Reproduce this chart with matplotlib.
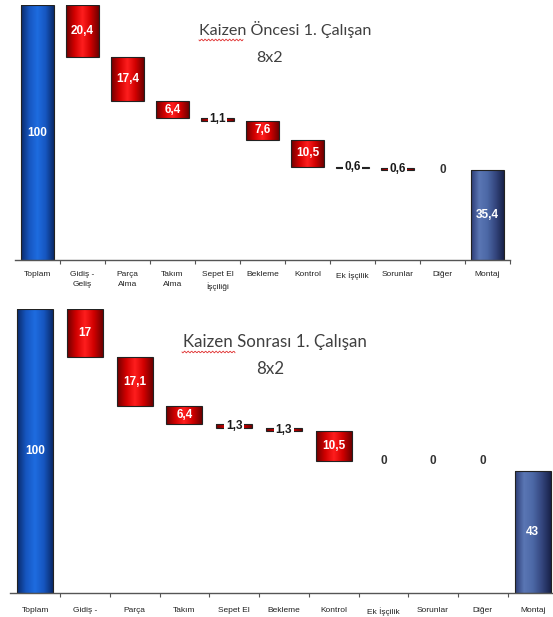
import numpy as np
import matplotlib
matplotlib.use('Agg')
import matplotlib.pyplot as plt
from matplotlib.colors import LinearSegmentedColormap
from matplotlib.lines import Line2D

# ===== DATA =====
categories_before = ['Toplam', 'Gidiş -\nGeliş', 'Parça\nAlma', 'Takım\nAlma', 'Sepet El\nİşçiliği',
                     'Bekleme', 'Kontrol', 'Ek İşçilik', 'Sorunlar', 'Diğer', 'Montaj']
categories_after = ['Toplam', 'Gidiş -', 'Parça', 'Takım', 'Sepet El',
                    'Bekleme', 'Kontrol', 'Ek İşçilik', 'Sorunlar', 'Diğer', 'Montaj']

before_total = 100
before_steps = [20.4, 17.4, 6.4, 1.1, 7.6, 10.5, 0.6, 0.6, 0]
before_result = 35.4

after_total = 100
after_steps = [17, 17.1, 6.4, 1.3, 1.3, 10.5, 0, 0, 0]
after_result = 43

# Gradient maps (dark edges, bright middle)
RED = LinearSegmentedColormap.from_list('red', ['#6e0000', '#d00000', '#ff1e1e', '#d00000', '#6e0000'])
BLUE = LinearSegmentedColormap.from_list('blue', ['#0a2a6a', '#1656c0', '#1e6ce0', '#1656c0', '#0a2a6a'])
NAVY = LinearSegmentedColormap.from_list('navy', ['#2c3c74', '#5a76b4', '#4c68a6', '#34467e', '#18224a'])

W, H = 553, 617
VAL_FONT = dict(fontsize=8.5, fontweight='bold', family='Liberation Sans', zorder=5)


def fmt(v):
    s = f"{v:.1f}".replace('.', ',')
    return s[:-2] if s.endswith(',0') else s


def gradient_bar(ax, x, bottom, height, cmap, width=0.72):
    bar = ax.bar(x, height, width=width, bottom=bottom, color='none',
                 edgecolor='#222222', linewidth=0.8, zorder=3)[0]
    grad = np.linspace(0, 1, 128).reshape(1, -1)
    im = ax.imshow(grad, cmap=cmap, aspect='auto', zorder=2,
                   extent=(x - width / 2, x + width / 2, bottom, bottom + height))
    im.set_clip_path(bar)
    return bar


def waterfall(ax, labels, total, steps, result, pad):
    x = np.arange(len(labels))
    gradient_bar(ax, x[0], 0, total, BLUE)
    ax.text(x[0], total / 2, fmt(total), ha='center', va='center', color='white', **VAL_FONT)

    level = total
    for i, v in enumerate(steps, start=1):
        if v == 0:
            ax.text(x[i], level, '0', ha='center', va='center', color='#333333', **VAL_FONT)
            continue
        gradient_bar(ax, x[i], level - v, v, RED)
        mid = level - v / 2
        if v < 2:
            # thin step: dark label on a white patch over the bar
            ax.text(x[i], mid, fmt(v), ha='center', va='center', color='#1a1a1a',
                    bbox=dict(facecolor='white', edgecolor='none', pad=1.0), **VAL_FONT)
        else:
            ax.text(x[i], mid, fmt(v), ha='center', va='center', color='white', **VAL_FONT)
        level -= v

    gradient_bar(ax, x[-1], 0, result, NAVY)
    ax.text(x[-1], result / 2, fmt(result), ha='center', va='center', color='white', **VAL_FONT)

    ax.set_xlim(-0.5, len(labels) - 0.5)
    ax.set_ylim(0, total)
    for side in ['left', 'right', 'top']:
        ax.spines[side].set_visible(False)
    ax.spines['bottom'].set_color('#555555')
    ax.spines['bottom'].set_linewidth(1.0)
    ax.spines['bottom'].set_zorder(6)
    ax.set_yticks([])
    ax.set_xticks(x)
    ax.set_xticklabels(labels, fontsize=6, family='Liberation Sans', color='#222222',
                       linespacing=1.6)
    ax.tick_params(axis='x', which='major', length=0, pad=pad)
    ax.set_xticks(np.arange(0.5, len(labels), 1), minor=True)
    ax.tick_params(axis='x', which='minor', length=3, width=0.8, color='#555555', direction='out')


def title(fig, text, x_px, y_px, sub_y_px, size, wave_x0, wave_x1, wave_y):
    fig.text(x_px / W, 1 - y_px / H, text, ha='center', va='center',
             fontsize=size, family='Lato', color='#404040')
    fig.text(270 / W, 1 - sub_y_px / H, '8x2', ha='center', va='center',
             fontsize=size, family='Lato', color='#404040')
    # spell-check squiggle under "Kaizen"
    xs = np.linspace(wave_x0, wave_x1, 60)
    ys = wave_y + 0.9 * np.sin((xs - wave_x0) * 2 * np.pi / 3.5)
    fig.add_artist(Line2D(xs / W, 1 - ys / H, transform=fig.transFigure,
                          color='#e03030', linewidth=0.6))


fig = plt.figure(figsize=(W / 100, H / 100), dpi=100)
fig.patch.set_facecolor('white')

# upper chart: before kaizen
ax1 = fig.add_axes([15 / W, (H - 260) / H, 495 / W, 255 / H])
waterfall(ax1, categories_before, before_total, before_steps, before_result, pad=8)
title(fig, 'Kaizen Öncesi 1. Çalışan', 285, 30, 58, 11.6, 199, 243, 40)

# lower chart: after kaizen
ax2 = fig.add_axes([10.25 / W, (H - 593) / H, 547.25 / W, 284 / H])
waterfall(ax2, categories_after, after_total, after_steps, after_result, pad=10)
title(fig, 'Kaizen Sonrası 1. Çalışan', 275, 342, 369, 12.2, 182, 235, 352)

fig.savefig('out.png', dpi=100, facecolor='white')
